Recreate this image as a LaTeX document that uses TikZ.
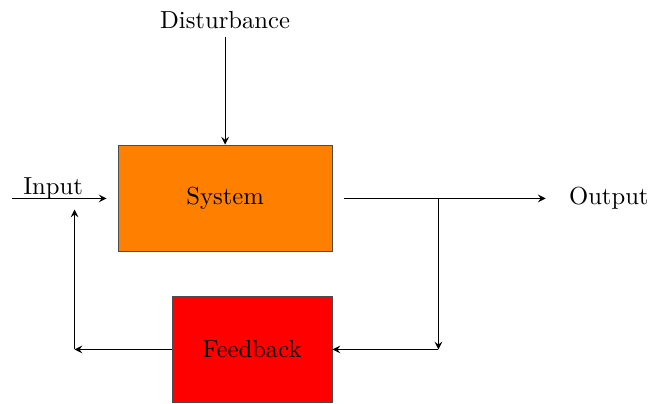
\documentclass[tikz,border=0pt]{standalone}
\usetikzlibrary{arrows, positioning, calc}
\tikzset{block/.style={draw=black!70, rectangle, minimum height=1.52cm, minimum width=3.05cm},
         >=stealth}

\begin{document}
\begin{tikzpicture}[node distance=2cm, auto, >=stealth]
        \useasboundingbox (-3.21,2.83) rectangle (6.06,-2.92);
        \node[block, fill=orange] (system) {System};
        \node[above=1.53cm of system] (dist) {Disturbance};
        \node[block, fill=red, minimum width=2.28cm, below=0.62cm of system, xshift=0.385cm] (feedback) {Feedback};
        \coordinate[left=1.51cm of system] (in);
        \coordinate[right=1.51cm of system] (branch);
        \coordinate[right=1.53cm of branch] (out);
        \node[right=0.21cm of out] (output) {Output};
        \coordinate (fbright) at (branch |- feedback);
        \coordinate[left=1.385cm of feedback] (back);

        \draw[->, shorten >=4.5pt] (in) -- node[above, inner sep=1pt, yshift=-1.6pt, pos=0.39] (inlabel) {Input} (system);
        \draw[->] (dist) -- (system);
        \draw[->, shorten <=4.5pt] (system) -- (out);
        \draw[->] (branch) -- (fbright);
        \draw[->] (fbright) -- (feedback);
        \draw[->] (feedback) -- (back);
        \draw[->, shorten >=4.5pt] (back) -- (back |- system);
    \end{tikzpicture}
\end{document}
